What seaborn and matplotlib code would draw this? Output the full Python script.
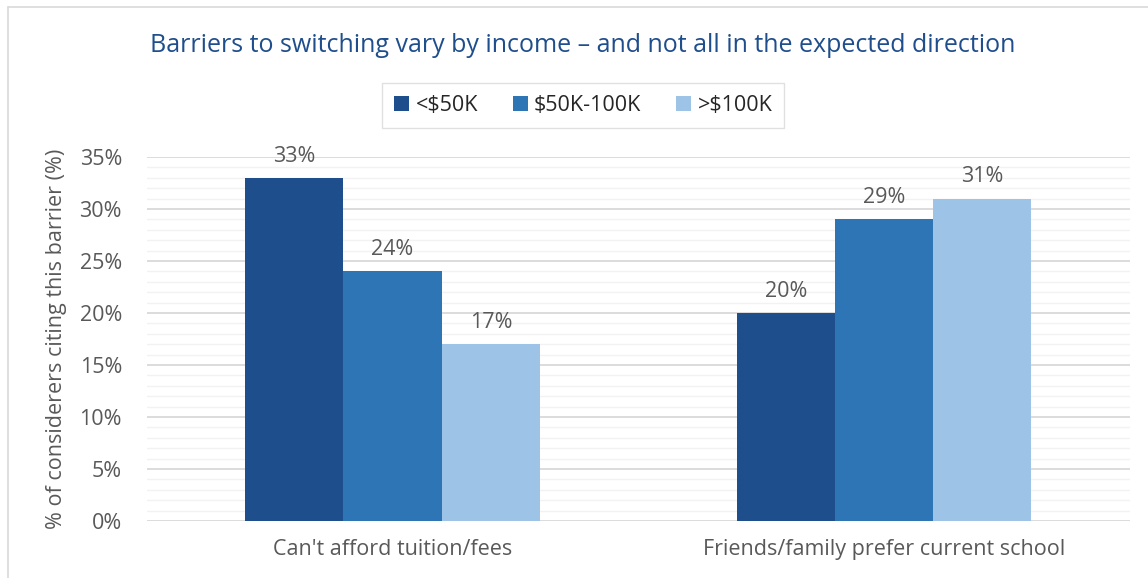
import matplotlib
matplotlib.use("Agg")
import matplotlib.pyplot as plt
import matplotlib.lines as mlines
from matplotlib.ticker import MultipleLocator, FuncFormatter
import seaborn as sns
import pandas as pd

categories = ["Can't afford tuition/fees", "Friends/family prefer current school"]
income_groups = ["<$50K", "$50K-100K", ">$100K"]
under_50k = [33, 20]
mid_50_100k = [24, 29]
over_100k = [17, 31]

colors = ["#1F4E8C", "#2E75B6", "#9DC3E6"]
gray = "#595959"

rows = []
for grp, vals in zip(income_groups, [under_50k, mid_50_100k, over_100k]):
    for cat, v in zip(categories, vals):
        rows.append({"category": cat, "income": grp, "value": v})
df = pd.DataFrame(rows)

sns.set_theme(style="white")
plt.rcParams["font.family"] = ["Open Sans", "DejaVu Sans"]

fig = plt.figure(figsize=(11.48, 5.78), dpi=100)
ax = fig.add_axes([0.128, 0.0986, 0.856, 0.6298])

sns.barplot(data=df, x="category", y="value", hue="income",
            order=categories, hue_order=income_groups,
            palette=colors, width=0.6, saturation=1, ax=ax,
            errorbar=None, zorder=3, legend=True, linewidth=0)

ax.set_ylim(0, 35)
ax.set_xlim(-0.5, 1.5)
ax.yaxis.set_major_locator(MultipleLocator(5))
ax.yaxis.set_minor_locator(MultipleLocator(1))
ax.yaxis.set_major_formatter(FuncFormatter(lambda v, p: f"{v:.0f}%"))
ax.grid(which="major", axis="y", color="#D9D9D9", linewidth=1.3, zorder=0)
ax.grid(which="minor", axis="y", color="#F2F2F2", linewidth=1.0, zorder=0)
ax.set_axisbelow(True)
for s in ax.spines.values():
    s.set_visible(False)
ax.tick_params(axis="y", which="both", length=0, labelsize=15.5, labelcolor=gray, pad=18)
ax.tick_params(axis="x", length=0, labelsize=15.5, labelcolor=gray, pad=13)
ax.set_xlabel("")
ax.set_ylabel("% of considerers citing this barrier (%)", fontsize=15.5, color=gray, labelpad=9)

for cont in ax.containers:
    ax.bar_label(cont, labels=[f"{v:.0f}%" for v in cont.datavalues],
                 padding=8, fontsize=15.5, color=gray)

handles, labels = ax.get_legend_handles_labels()
ax.legend(handles, labels, loc="center", bbox_to_anchor=(0.508, 0.818),
          bbox_transform=fig.transFigure, ncol=3, frameon=True, fancybox=False,
          edgecolor="#D9D9D9", fontsize=15.5, handlelength=0.7, handleheight=0.7,
          handletextpad=0.3, columnspacing=1.6, borderpad=0.55,
          labelcolor="#262626")

fig.text(0.508, 0.922, "Barriers to switching vary by income \u2013 and not all in the expected direction",
         ha="center", va="center", fontsize=18, color="#1F4E8C")

# chart frame
fig.add_artist(mlines.Line2D([8 / 1148, 8 / 1148], [1 - 7 / 578, 0], color="#D9D9D9", linewidth=1.2))
fig.add_artist(mlines.Line2D([8 / 1148, 1], [1 - 7 / 578, 1 - 7 / 578], color="#D9D9D9", linewidth=1.2))

fig.savefig("out.png", dpi=100, facecolor="white")
